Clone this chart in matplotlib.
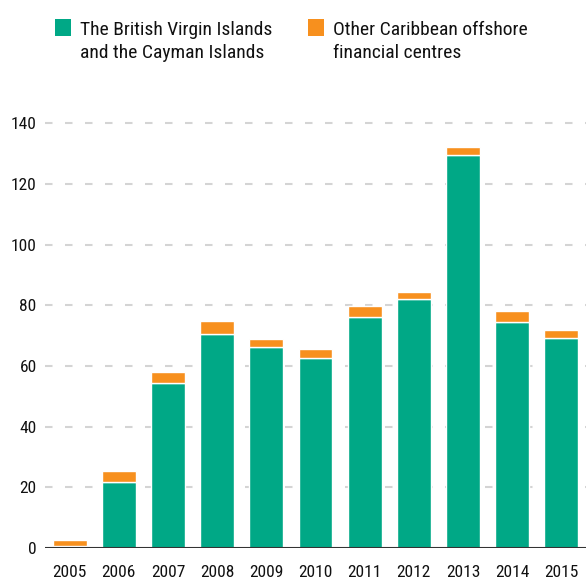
import numpy as np
import matplotlib.pyplot as plt
from matplotlib.patches import Rectangle

plt.rcParams['font.family'] = ['Roboto Condensed', 'DejaVu Sans']

years = ["2005", "2006", "2007", "2008", "2009", "2010", "2011", "2012", "2013", "2014", "2015"]
bvi_cayman = [0.7, 21.9, 54.4, 70.6, 66.2, 62.5, 76.0, 82.1, 129.6, 74.6, 69.1]
other_carib = [2.1, 3.6, 3.6, 4.1, 2.7, 3.1, 3.6, 2.4, 2.7, 3.4, 2.8]
legend_green = ["The British Virgin Islands", "and the Cayman Islands"]
legend_orange = ["Other Caribbean offshore", "financial centres"]

green = "#00a886"
orange = "#f7901e"

fig = plt.figure(figsize=(5.86, 5.79), dpi=100)
ax = fig.add_axes([0.0768, 0.0535, 0.9232, 0.7548])

x = np.arange(len(years))
ax.bar(x, bvi_cayman, width=0.69, color=green, edgecolor="white", linewidth=1, zorder=3)
ax.bar(x, other_carib, width=0.69, bottom=bvi_cayman, color=orange, edgecolor="white",
       linewidth=1, zorder=3)

ax.set_xlim(-0.5, 10.5)
ax.set_ylim(0, 144)
ax.set_yticks(np.arange(0, 141, 20))
ax.set_xticks(x)
ax.set_xticklabels(years)

for v in np.arange(20, 141, 20):
    ax.axhline(v, color="#d4d4d4", linewidth=1.5, dashes=(3.6, 6), zorder=1)
ax.axhline(0, color="#333333", linewidth=1.5, zorder=4)

for s in ax.spines.values():
    s.set_visible(False)
ax.tick_params(axis="both", length=0, labelsize=12.5, colors="#111111")
ax.tick_params(axis="y", pad=6)
ax.tick_params(axis="x", pad=12)

# legend, laid out by hand so the swatch sits on the first line
for sx, tx, col, lines in [(55, 80, green, legend_green), (308, 333, orange, legend_orange)]:
    fig.add_artist(Rectangle((sx / 586, 1 - 36 / 579), 16 / 586, 17 / 579,
                             transform=fig.transFigure, color=col, linewidth=0))
    for i, line in enumerate(lines):
        fig.text(tx / 586, 1 - (35 + 23 * i) / 579, line, fontsize=14,
                 va="baseline", ha="left", color="#111111")

fig.savefig("out.png", dpi=100)
